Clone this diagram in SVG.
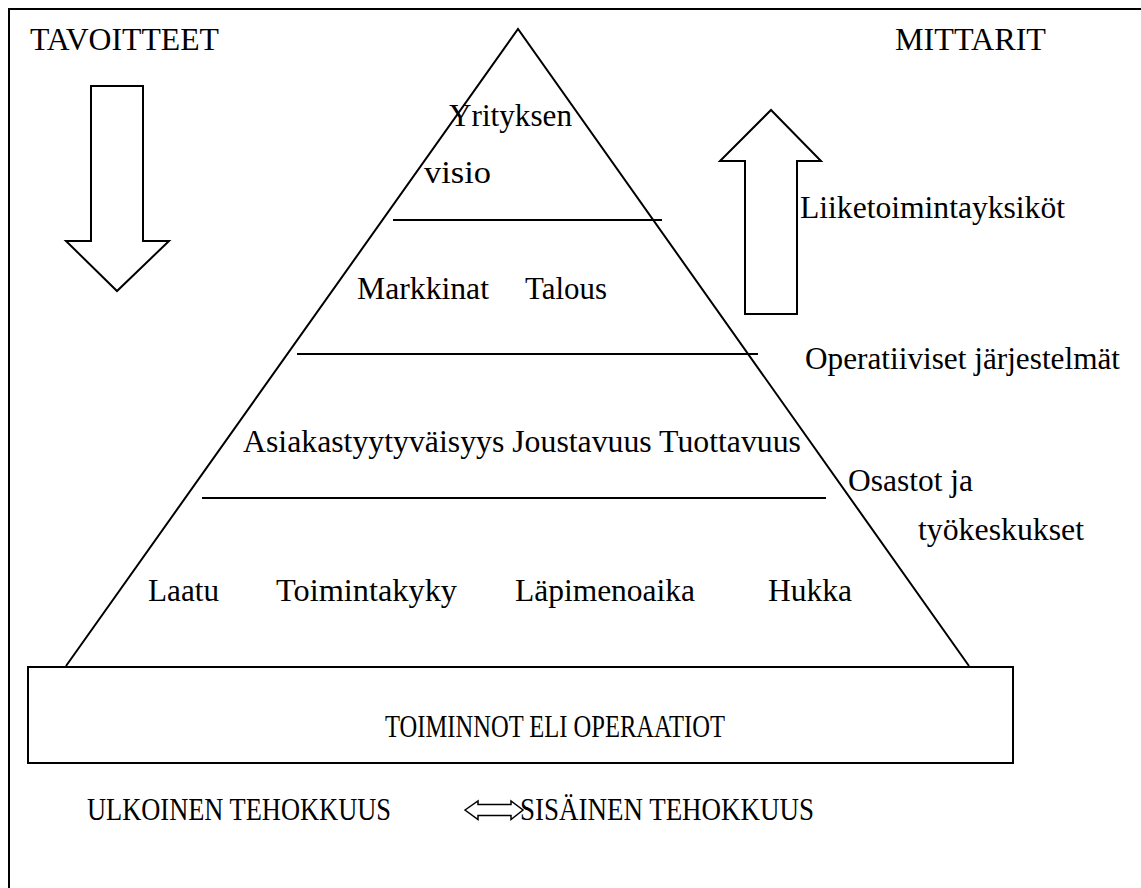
<svg xmlns="http://www.w3.org/2000/svg" width="1141" height="888" viewBox="0 0 1141 888">
  <style>
    .ln { fill: none; stroke: #000; stroke-width: 2; }
    .sh { fill: #fff; stroke: #000; stroke-width: 2; stroke-linejoin: miter; }
    text { font-size: 31px; fill: #000; }
  </style>
  <rect width="1141" height="888" fill="#fff"/>

  <!-- outer frame -->
  <rect x="9" y="9" width="1150" height="900" class="ln"/>

  <g font-family="'Liberation Serif', 'Times New Roman', 'DejaVu Serif', serif">
  <!-- headings -->
  <g id="heading-goals">
    <text x="30" y="50" textLength="189" lengthAdjust="spacingAndGlyphs">TAVOITTEET</text>
  </g>
  <g id="heading-metrics">
    <text x="895" y="50" textLength="151" lengthAdjust="spacingAndGlyphs">MITTARIT</text>
  </g>

  <!-- block arrows -->
  <g id="arrow-down">
    <polygon class="sh" points="91,86 143,86 143,241 169,241 117,291 66,241 91,241"/>
  </g>
  <g id="arrow-up">
    <polygon class="sh" points="745,314 797,314 797,161 821,161 771,110 720,161 745,161"/>
  </g>

  <!-- pyramid -->
  <g id="pyramid">
    <polyline class="ln" points="66,666 518,29 969,666"/>
    <line class="ln" x1="393" y1="220" x2="662" y2="220"/>
    <line class="ln" x1="297" y1="354" x2="758" y2="354"/>
    <line class="ln" x1="202" y1="498" x2="826" y2="498"/>
  </g>

  <g id="level-vision">
    <text x="449" y="126" textLength="123" lengthAdjust="spacingAndGlyphs">Yrityksen</text>
    <text x="424" y="183" textLength="67" lengthAdjust="spacingAndGlyphs">visio</text>
  </g>
  <g id="level-markets">
    <text x="357" y="299" textLength="132" lengthAdjust="spacingAndGlyphs">Markkinat</text>
    <text x="525" y="299" textLength="82" lengthAdjust="spacingAndGlyphs">Talous</text>
  </g>
  <g id="level-customer">
    <text x="243" y="452" textLength="558" lengthAdjust="spacingAndGlyphs">Asiakastyytyväisyys Joustavuus Tuottavuus</text>
  </g>
  <g id="level-quality">
    <text x="148" y="601" textLength="71" lengthAdjust="spacingAndGlyphs">Laatu</text>
    <text x="276" y="601" textLength="181" lengthAdjust="spacingAndGlyphs">Toimintakyky</text>
    <text x="515" y="601" textLength="180" lengthAdjust="spacingAndGlyphs">Läpimenoaika</text>
    <text x="768" y="601" textLength="84" lengthAdjust="spacingAndGlyphs">Hukka</text>
  </g>

  <!-- organisational levels on the right -->
  <g id="label-business-units">
    <text x="800" y="218" textLength="265" lengthAdjust="spacingAndGlyphs">Liiketoimintayksiköt</text>
  </g>
  <g id="label-operative-systems">
    <text x="805" y="369" textLength="315" lengthAdjust="spacingAndGlyphs">Operatiiviset järjestelmät</text>
  </g>
  <g id="label-departments">
    <text x="848" y="491" textLength="125" lengthAdjust="spacingAndGlyphs">Osastot ja</text>
    <text x="918" y="540" textLength="166" lengthAdjust="spacingAndGlyphs">työkeskukset</text>
  </g>

  <!-- base: operations -->
  <g id="operations">
    <rect class="ln" x="28" y="667" width="985" height="96"/>
    <text x="385" y="737" textLength="340" lengthAdjust="spacingAndGlyphs">TOIMINNOT ELI OPERAATIOT</text>
  </g>

  <!-- efficiency -->
  <g id="external-efficiency">
    <text x="87" y="820" textLength="304" lengthAdjust="spacingAndGlyphs">ULKOINEN TEHOKKUUS</text>
  </g>
  <g id="internal-efficiency">
    <text x="520" y="820" textLength="294" lengthAdjust="spacingAndGlyphs">SISÄINEN TEHOKKUUS</text>
  </g>
  </g>
  <g id="connectors">
    <polygon fill="#fff" stroke="#000" stroke-width="1.5" points="465,810 478,801 478,804.5 511,804.5 511,801 523,810 511,819.5 511,815.5 478,815.5 478,819.5"/>
  </g>
</svg>
